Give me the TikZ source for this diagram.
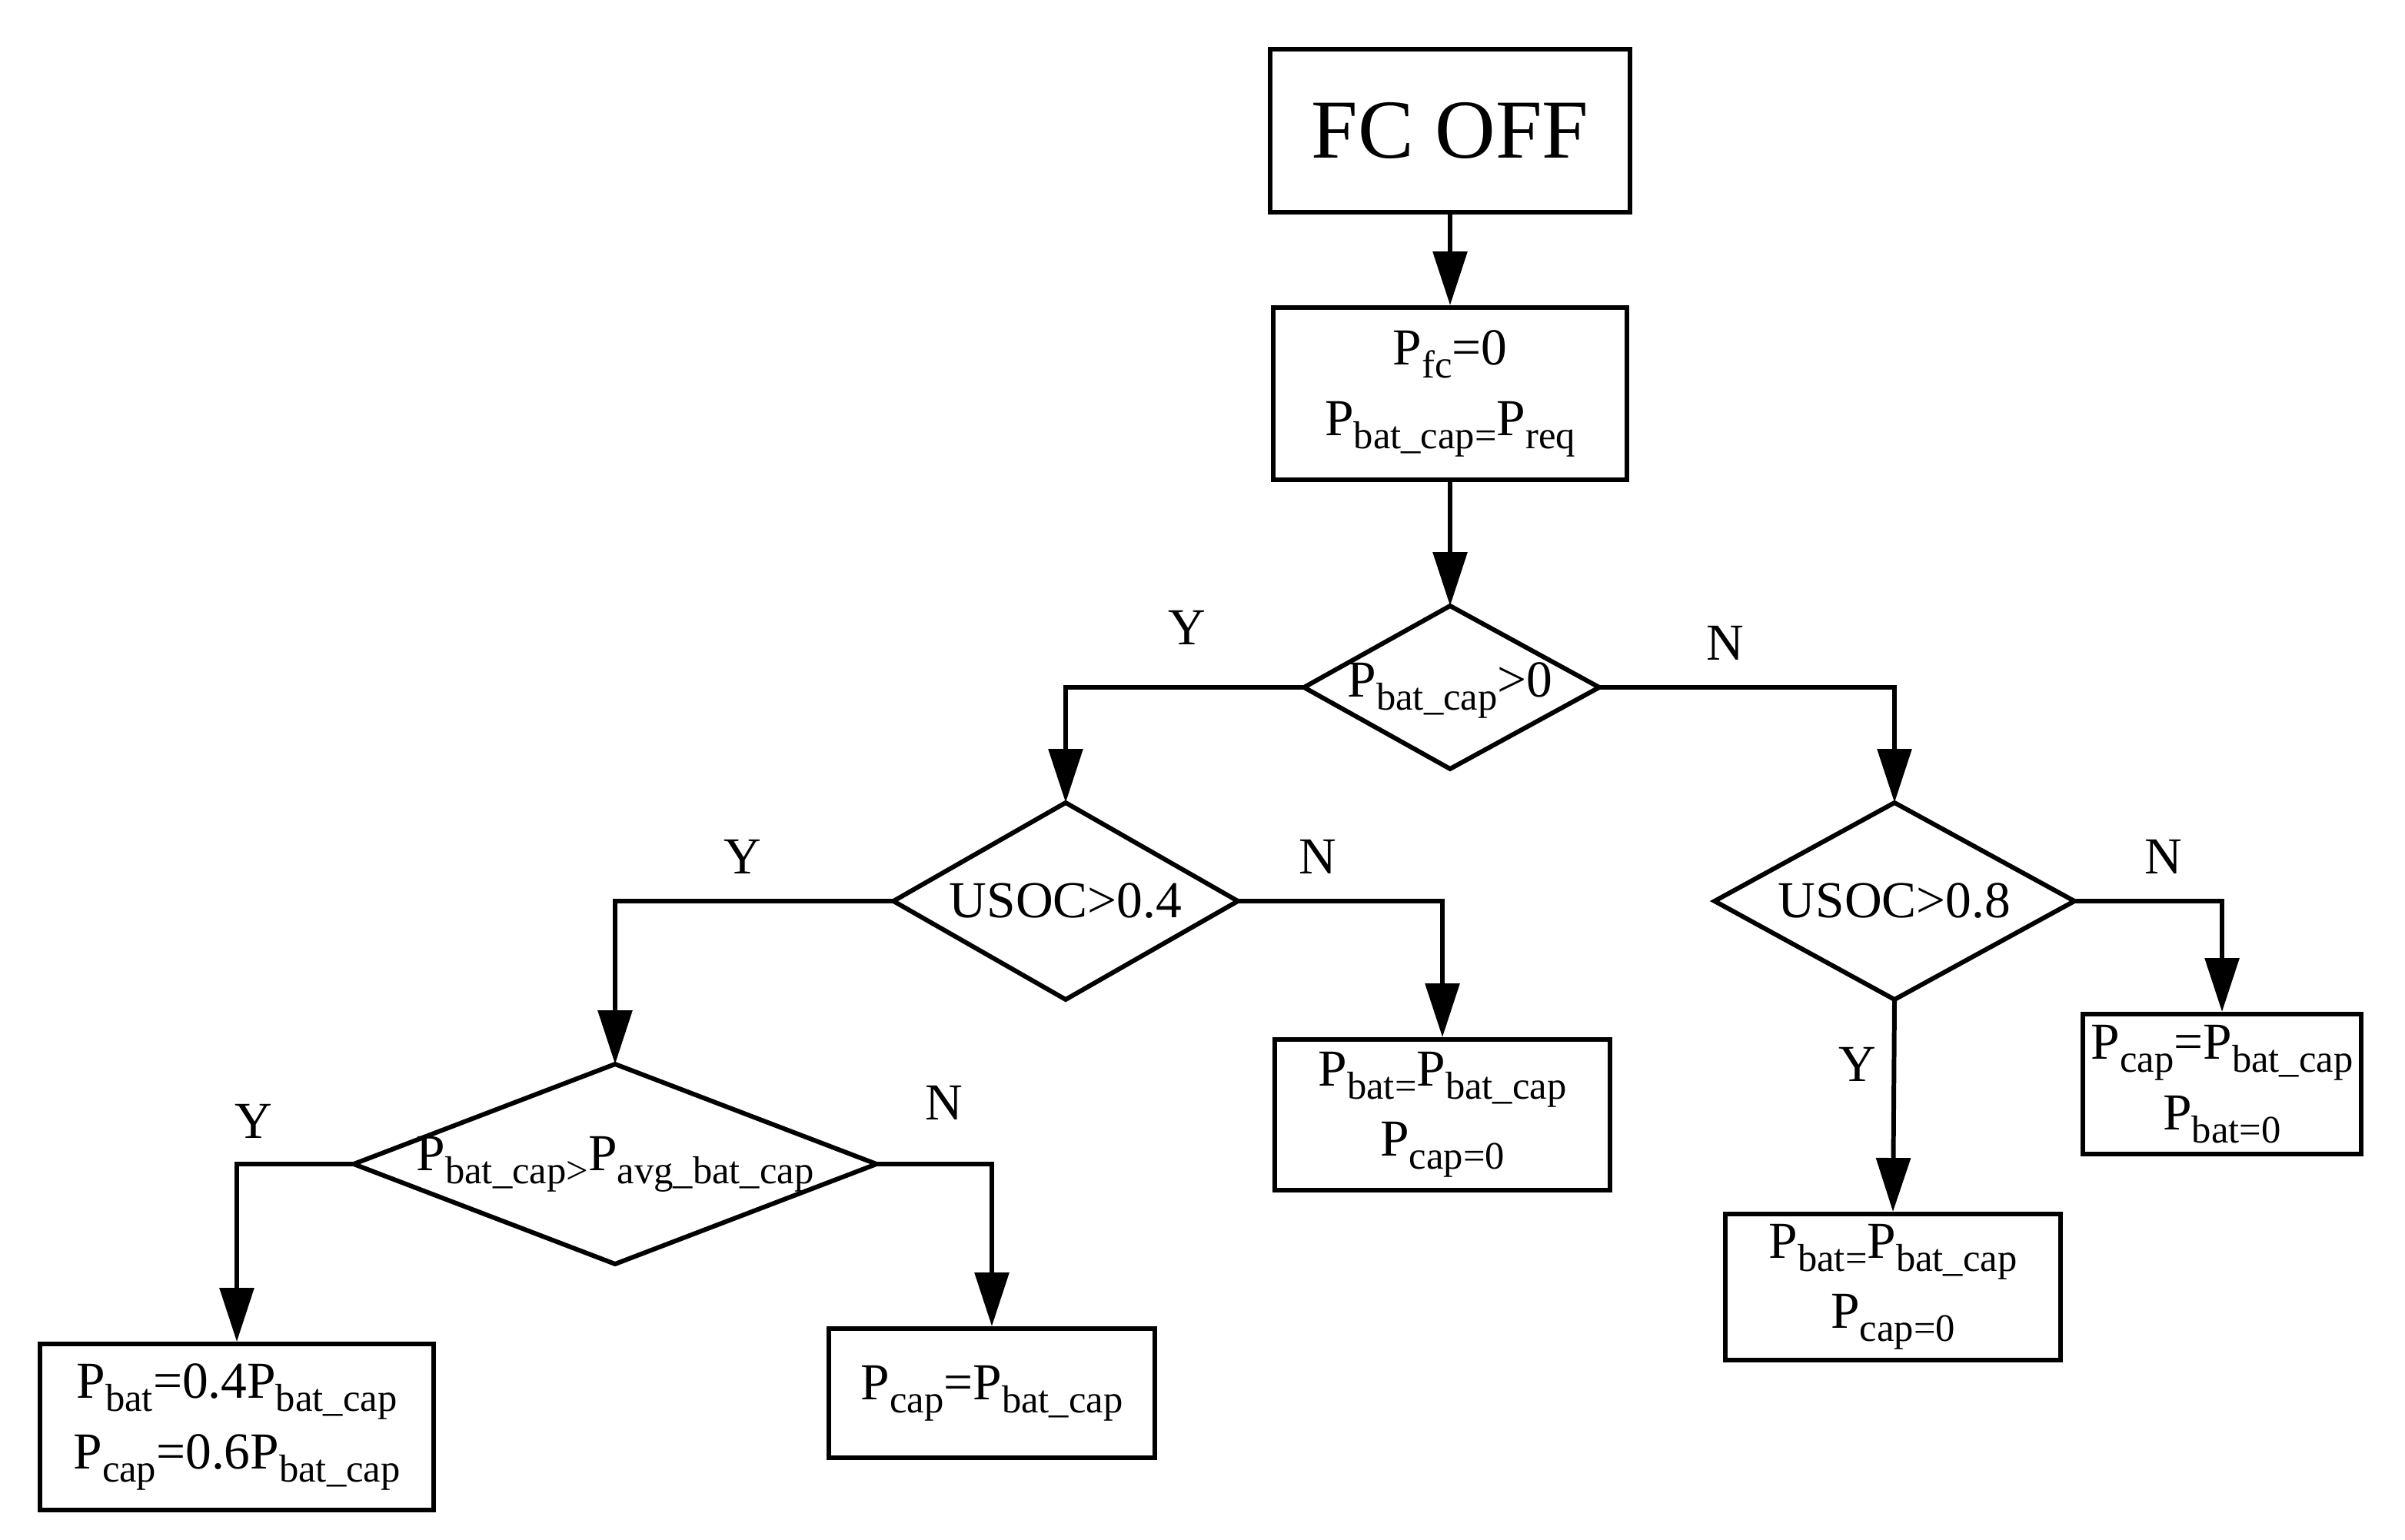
\documentclass[tikz,border=0pt]{standalone}
\usepackage{fontspec}
\setmainfont{Liberation Serif}
\usetikzlibrary{arrows.meta}
\newcommand{\ssb}[1]{\raisebox{-0.55ex}{\fontsize{7.2}{8}\selectfont #1}}
\begin{document}
\begin{tikzpicture}[x=0.1mm,y=-0.1mm,
  box/.style={draw,line width=0.85pt,inner sep=0,align=center,font=\fontsize{9.6}{13}\selectfont},
  dia/.style={draw,line width=0.85pt},
  lbl/.style={font=\fontsize{9.6}{11}\selectfont},
  yn/.style={font=\fontsize{9.6}{11}\selectfont},
  arr/.style={line width=0.85pt,-{Triangle[length=3.5mm,width=2.2mm]}},
  ln/.style={line width=0.85pt}]
\useasboundingbox (0,0) rectangle (1564,1001);
% boxes
\node[box,minimum width=234*0.1mm,minimum height=106*0.1mm,font=\fontsize{15.5}{18}\selectfont] (fc) at (943,85) {FC OFF};
\node[box,minimum width=230*0.1mm,minimum height=112*0.1mm] (b2) at (943,256) {P\ssb{fc}=0\\P\ssb{bat\_cap=}P\ssb{req}};
\node[box,minimum width=218*0.1mm,minimum height=98*0.1mm] (bm) at (938,725) {P\ssb{bat=}P\ssb{bat\_cap}\\P\ssb{cap=0}};
\node[box,minimum width=181*0.1mm,minimum height=91*0.1mm] (br) at (1445,705) {P\ssb{cap}=P\ssb{bat\_cap}\\P\ssb{bat=0}};
\node[box,minimum width=218*0.1mm,minimum height=95*0.1mm] (brl) at (1231,837) {P\ssb{bat=}P\ssb{bat\_cap}\\P\ssb{cap=0}};
\node[box,minimum width=256*0.1mm,minimum height=108*0.1mm] (bl) at (154,928) {P\ssb{bat}=0.4P\ssb{bat\_cap}\\P\ssb{cap}=0.6P\ssb{bat\_cap}};
\node[box,minimum width=212*0.1mm,minimum height=84*0.1mm] (bc) at (645,906) {P\ssb{cap}=P\ssb{bat\_cap}};
% diamonds
\coordinate (d1t) at (943,394); \coordinate (d1b) at (943,500);
\coordinate (d1l) at (848,447); \coordinate (d1r) at (1040,447);
\draw[dia] (d1t)--(d1r)--(d1b)--(d1l)--cycle;
\node[lbl] (d1) at (943,449) {P\ssb{bat\_cap}>0};
\coordinate (d2t) at (693,522); \coordinate (d2b) at (693,650);
\coordinate (d2l) at (581,586); \coordinate (d2r) at (805,586);
\draw[dia] (d2t)--(d2r)--(d2b)--(d2l)--cycle;
\node[lbl] (d2) at (693,586) {USOC>0.4};
\coordinate (d3t) at (1232,522); \coordinate (d3b) at (1232,650);
\coordinate (d3l) at (1115,586); \coordinate (d3r) at (1349,586);
\draw[dia] (d3t)--(d3r)--(d3b)--(d3l)--cycle;
\node[lbl] (d3) at (1232,586) {USOC>0.8};
\coordinate (d4t) at (400,692); \coordinate (d4b) at (400,822);
\coordinate (d4l) at (230,757); \coordinate (d4r) at (570,757);
\draw[dia] (d4t)--(d4r)--(d4b)--(d4l)--cycle;
\node[lbl] (d4) at (400,757) {P\ssb{bat\_cap>}P\ssb{avg\_bat\_cap}};
% connectors
\draw[arr] (fc.south) -- (b2.north);
\draw[arr] (b2.south) -- (d1t);
\draw[arr] (d1l) -| (d2t);
\draw[arr] (d1r) -| (d3t);
\draw[arr] (d2l) -| (d4t);
\draw[arr] (d2r) -| (bm.north);
\draw[arr] (d3r) -| (br.north);
\draw[arr] (d3b) -- (brl.north);
\draw[arr] (d4l) -| (bl.north);
\draw[arr] (d4r) -| (bc.north);
% labels
\node[yn] (y1) at (772,408) {Y};
\node[yn] (n1) at (1122,418) {N};
\node[yn] (y2) at (483,557) {Y};
\node[yn] (n2) at (857,557) {N};
\node[yn] (n3) at (1407,557) {N};
\node[yn] (y3) at (1208,692) {Y};
\node[yn] (y4) at (165,729) {Y};
\node[yn] (n4) at (614,717) {N};
\end{tikzpicture}
\end{document}
